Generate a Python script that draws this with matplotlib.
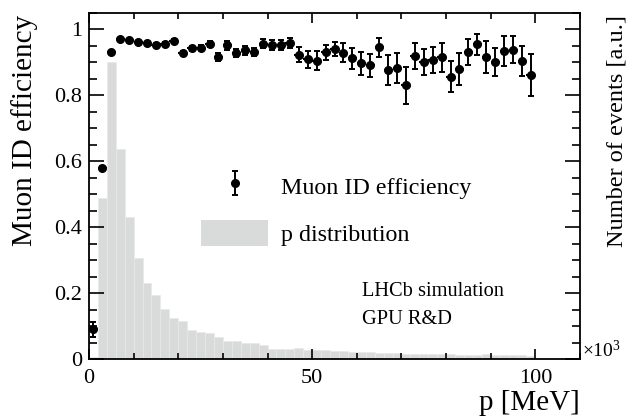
import numpy as np
import matplotlib
matplotlib.use("Agg")
import matplotlib.pyplot as plt
from matplotlib.patches import Patch
from matplotlib.ticker import MultipleLocator, FormatStrFormatter

plt.rcParams['font.family'] = ['Liberation Serif', 'DejaVu Serif']
plt.rcParams['mathtext.fontset'] = 'custom'
plt.rcParams['mathtext.rm'] = 'Liberation Serif'
plt.rcParams['mathtext.it'] = 'Liberation Serif:italic'

# efficiency points, bin centres in units of 10^3 MeV
p_centres = [1, 3, 5, 7, 9, 11, 13, 15, 17, 19, 21, 23, 25, 27, 29, 31, 33, 35, 37, 39,
             41, 43, 45, 47, 49, 51, 53, 55, 57, 59, 61, 63, 65, 67, 69, 71, 73, 75, 77, 79,
             81, 83, 85, 87, 89, 91, 93, 95, 97, 99]
efficiency = [0.090, 0.580, 0.931, 0.970, 0.968, 0.962, 0.959, 0.953, 0.957, 0.964,
              0.929, 0.943, 0.945, 0.955, 0.917, 0.952, 0.929, 0.937, 0.932, 0.957,
              0.952, 0.952, 0.960, 0.924, 0.909, 0.905, 0.931, 0.941, 0.929, 0.913,
              0.897, 0.891, 0.946, 0.877, 0.883, 0.830, 0.919, 0.901, 0.907, 0.916,
              0.856, 0.880, 0.931, 0.955, 0.917, 0.901, 0.935, 0.939, 0.904, 0.862]
eff_err = [0.023, 0.006, 0.003, 0.003, 0.003, 0.004, 0.004, 0.005, 0.005, 0.006,
           0.007, 0.008, 0.008, 0.009, 0.013, 0.013, 0.012, 0.013, 0.013, 0.013,
           0.015, 0.015, 0.015, 0.023, 0.027, 0.029, 0.023, 0.022, 0.029, 0.032,
           0.035, 0.035, 0.029, 0.045, 0.045, 0.055, 0.039, 0.040, 0.039, 0.044,
           0.047, 0.050, 0.039, 0.032, 0.049, 0.043, 0.046, 0.042, 0.045, 0.063]
bin_half_width = 1.0

# p distribution (arbitrary units, scaled onto the efficiency axis), 2 GeV bins from 0 to 100
hist_edges = list(range(0, 102, 2))
p_dist = [0.005, 0.490, 0.900, 0.636, 0.432, 0.308, 0.230, 0.194, 0.152, 0.123,
          0.115, 0.088, 0.082, 0.079, 0.067, 0.055, 0.054, 0.050, 0.050, 0.044,
          0.030, 0.030, 0.030, 0.034, 0.028, 0.028, 0.026, 0.024, 0.024, 0.020,
          0.022, 0.020, 0.018, 0.018, 0.017, 0.016, 0.016, 0.015, 0.015, 0.014,
          0.014, 0.013, 0.013, 0.012, 0.015, 0.012, 0.012, 0.011, 0.011, 0.010]

bar_colour = "#d9dada"

fig = plt.figure(figsize=(6.26, 4.17), dpi=100)
ax = fig.add_axes([89/626, 58/417, 491/626, 346/417])

ax.bar(hist_edges[:-1], p_dist, width=2, align='edge', color=bar_colour,
       edgecolor="#e9e9e9", linewidth=0.5, label="p distribution", zorder=1)

# horizontal (bin width) bars, no caps
ax.errorbar(p_centres, efficiency, xerr=bin_half_width, fmt='none', ecolor='black',
            elinewidth=1.5, capsize=0, zorder=3)
h_eff = ax.errorbar(p_centres, efficiency, yerr=eff_err, fmt='o', color='black',
                    markersize=5.5, elinewidth=1.4, capsize=2.5, capthick=1.4,
                    label="Muon ID efficiency", zorder=4)

ax.set_xlim(0, 110)
ax.set_ylim(0, 1.05)

ax.xaxis.set_major_locator(MultipleLocator(50))
ax.xaxis.set_minor_locator(MultipleLocator(10))
ax.yaxis.set_major_locator(MultipleLocator(0.2))
ax.yaxis.set_minor_locator(MultipleLocator(0.05))
ax.xaxis.set_major_formatter(FormatStrFormatter('%g'))
ax.yaxis.set_major_formatter(FormatStrFormatter('%g'))

ax.tick_params(axis='both', which='both', direction='in', top=True, right=True,
               width=1.2, labelsize=16, colors='black')
ax.tick_params(axis='y', which='major', length=11, pad=5)
ax.tick_params(axis='y', which='minor', length=5.5)
ax.tick_params(axis='x', which='major', length=7, pad=7.5)
ax.tick_params(axis='x', which='minor', length=4.5)
for s in ax.spines.values():
    s.set_linewidth(1.3)

# legend
leg = ax.legend(handles=[h_eff, Patch(facecolor=bar_colour, edgecolor='none')],
                labels=["Muon ID efficiency", "p distribution"],
                loc='upper left', bbox_to_anchor=(201/626, 1 - 173/417),
                bbox_transform=fig.transFigure, frameon=False, fontsize=17.3,
                handlelength=2.8, handleheight=1.25, handletextpad=0.55,
                labelspacing=0.9, borderpad=0, borderaxespad=0)

# titles and annotations
fig.text(25/626, 1 - 15/417, "Muon ID efficiency", rotation=90, ha='center', va='top', fontsize=21)
fig.text(580/626, 1 - 403/417, "p [MeV]", ha='right', va='center', fontsize=21)
fig.text(617/626, 1 - 15/417, "Number of events [a.u.]", rotation=90, ha='center', va='top', fontsize=17.5)
fig.text(582/626, 1 - 351/417, "×10$^{3}$", ha='left', va='center', fontsize=14)
fig.text(362/626, 1 - 292/417, "LHCb simulation", ha='left', va='center', fontsize=14.7)
fig.text(362/626, 1 - 319/417, "GPU R&D", ha='left', va='center', fontsize=14.7)

fig.savefig("out.png", dpi=100)
